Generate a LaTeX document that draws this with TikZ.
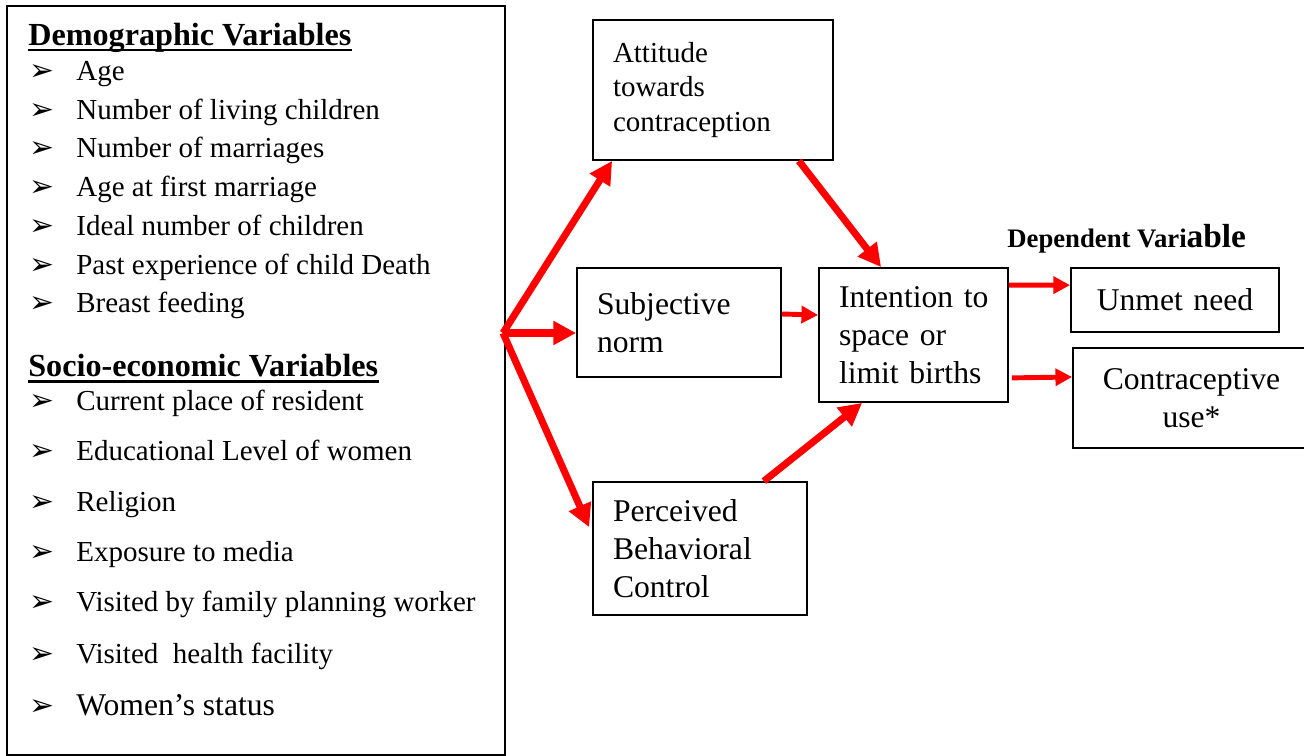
\documentclass[tikz,border=0pt]{standalone}
\usepackage{fontspec}
\setmainfont{Liberation Serif}
\newfontfamily\dingfont{DejaVu Sans}
\usetikzlibrary{positioning, calc, arrows.meta}
\newcommand{\bul}{\makebox[0.94cm][l]{\dingfont\fontsize{17}{17}\selectfont ➢}}

\begin{document}
\begin{tikzpicture}[
	box/.style={draw, line width=1pt, inner xsep=0.4cm, inner ysep=0pt, align=left, 
	font=\fontsize{18}{21.5}\selectfont},
	item/.style={anchor=base west, inner sep=0pt, font=\fontsize{16.5}{19}\selectfont},
	head/.style={anchor=base west, inner sep=0pt, font=\fontsize{18.3}{21}\selectfont\bfseries},
	bigarrow/.style={red, line width=4pt, -{Triangle[length=13pt,width=13pt]}},
	smallarrow/.style={red, line width=2.8pt, -{Triangle[length=9.5pt,width=9.5pt]}}
	]
		\useasboundingbox (0,0) rectangle (26.08,-15.12);
		
		%Left box
		\node (factors) at (5.12,-7.61) [draw, line width=1pt, minimum width=9.96cm, 
		minimum height=14.98cm, inner sep=0pt]{};
		\node (demohead) at (0.56,-0.9) [head]{Demographic Variables};
		\draw[line width=1.6pt] ([yshift=-2.8pt]demohead.base west) -- ([yshift=-2.8pt]demohead.base east);
		\node (age) at (0.58,-1.6) [item]{\bul Age};
		\node (living) at (0.58,-2.38) [item]{\bul Number of living children};
		\node (marriages) at (0.58,-3.15) [item]{\bul Number of marriages};
		\node (firstmar) at (0.58,-3.92) [item]{\bul Age at first marriage};
		\node (ideal) at (0.58,-4.7) [item]{\bul Ideal number of children};
		\node (death) at (0.58,-5.48) [item]{\bul Past experience of child Death};
		\node (breast) at (0.58,-6.25) [item]{\bul Breast feeding};
		
		\node (sociohead) at (0.56,-7.53) [head]{Socio-economic Variables};
		\draw[line width=1.6pt] ([yshift=-2.8pt]sociohead.base west) -- ([yshift=-2.8pt]sociohead.base east);
		\node (resident) at (0.58,-8.2) [item]{\bul Current place of resident};
		\node (educ) at (0.58,-9.2) [item]{\bul Educational Level of women};
		\node (religion) at (0.58,-10.23) [item]{\bul Religion};
		\node (media) at (0.58,-11.23) [item]{\bul Exposure to media};
		\node (fpworker) at (0.58,-12.23) [item]{\bul Visited by family planning worker};
		\node (facility) at (0.58,-13.27) [item]{\bul Visited~ health facility};
		\node (status) at (0.58,-14.31) [item, font=\fontsize{18}{21}\selectfont]{\bul Women’s status};
		
		%Theory boxes
		\node (attitude) at (14.26,-1.8) [box, text width=4.0cm, minimum height=2.8cm, 
		font=\fontsize{16.5}{19.6}\selectfont]{Attitude\\towards\\contraception};
		\node (subjective) at (13.58,-6.45) [box, text width=3.28cm, minimum height=2.18cm]{Subjective\\norm};
		\node (perceived) at (14.0,-10.97) [box, text width=3.48cm, minimum height=2.66cm]{Perceived\\Behavioral\\Control};
		\node (intention) at (18.27,-6.7) [box, text width=2.98cm, 
		minimum height=2.68cm]{Intention~to\\space~or\\limit~births};
		
		%Outcomes
		\node (deplabel) at (20.14,-4.94) [anchor=base west, inner sep=0pt, font=\bfseries]
		{\fontsize{15.2}{17}\selectfont Dependent Vari\fontsize{19}{21}\selectfont able};
		\node (unmet) at (23.5,-6.0) [box, align=center, text width=3.36cm, minimum height=1.28cm]{Unmet need};
		\node (contra) at (23.83,-7.96) [box, align=center, text width=3.94cm, minimum height=2.0cm]{Contraceptive\\use*};
		
		%Arrows
		\coordinate (fan) at (10.06,-6.66);
		\draw[bigarrow] (fan) -- ($(attitude.south west)+(0.4,0)$);
		\draw[bigarrow] (fan) -- (fan -| subjective.west);
		\draw[bigarrow] (fan) -- ($(perceived.north west)+(-0.06,-0.92)$);
		\draw[bigarrow] ($(attitude.south east)+(-0.7,0)$) -- ($(intention.north west)+(1.26,0)$);
		\draw[smallarrow] ($(subjective.east)+(0,0.17)$) -- ($(intention.west)+(0,0.4)$);
		\draw[bigarrow] ($(perceived.north east)+(-0.88,0)$) -- ($(intention.south west)+(0.88,0)$);
		\draw[smallarrow] ($(intention.north east)+(0,-0.36)$) -- ($(unmet.north west)+(0,-0.36)$);
		\draw[smallarrow] ($(intention.south east)+(0.06,0.5)$) -- ($(contra.west)+(0,0.42)$);
\end{tikzpicture}
\end{document}
